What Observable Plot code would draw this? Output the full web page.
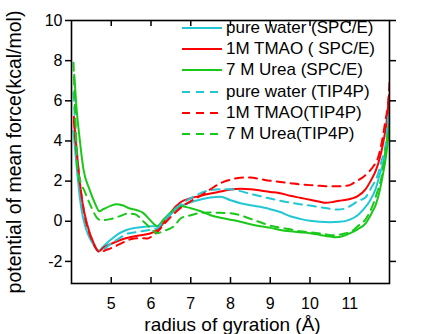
<!DOCTYPE html>
<html>
<head>
<meta charset="utf-8">
<script src="https://cdn.jsdelivr.net/npm/d3@7"></script>
<script src="https://cdn.jsdelivr.net/npm/@observablehq/plot@0.6"></script>
<style>
  html, body { margin: 0; padding: 0; background: #fff; }
  #wrap { position: relative; width: 429px; height: 334px; font-family: "Liberation Sans", Arial, sans-serif; color: #000; }
  #legend { position: absolute; left: 182px; top: 17.5px; }
  .row { display: flex; align-items: center; height: 21.2px; font-size: 17px; white-space: nowrap; }
  .row svg { display: block; margin-right: 4px; }
</style>
</head>
<body>
<div id="wrap"><div id="legend"></div></div>
<script>
// ---- data ----
const xTicks = [5, 6, 7, 8, 9, 10, 11];
const yTicks = [-2, 0, 2, 4, 6, 8, 10];
const yTickLabels = ["-2", "0", "2", "4", "6", "8", "10"];
const xLabel = "radius of gyration (Å)";
const yLabel = "potential of mean force(kcal/mol)";

const seriesNames = ["pure water (SPC/E)", "1M TMAO ( SPC/E)", "7 M Urea (SPC/E)",
                     "pure water (TIP4P)", "1M TMAO(TIP4P)", "7 M Urea(TIP4P)"];
const seriesColors = ["#22c7d4", "#ff0000", "#19c819", "#22c7d4", "#ff0000", "#19c819"];
const seriesDashed = [false, false, false, true, true, true];

const pureWaterSPCE = [[4.05,4.5],[4.15,2.3],[4.25,0.6],[4.35,-0.28],[4.45,-0.8],[4.55,-1.15],[4.68,-1.48],[4.8,-1.25],[5.0,-0.9],[5.2,-0.6],[5.4,-0.42],[5.6,-0.33],[5.8,-0.28],[6.0,-0.25],[6.15,-0.25],[6.3,0.0],[6.5,0.35],[6.75,0.75],[7.0,0.95],[7.25,1.08],[7.5,1.18],[7.75,1.22],[8.0,1.05],[8.25,0.9],[8.5,0.8],[8.75,0.72],[9.0,0.6],[9.25,0.46],[9.5,0.25],[9.75,0.12],[10.0,0.02],[10.25,-0.03],[10.5,-0.05],[10.75,-0.03],[11.0,0.08],[11.2,0.3],[11.35,0.6],[11.5,1.0],[11.65,1.6],[11.75,2.3],[11.85,3.0],[11.93,3.9],[11.99,5.4]];
const tmaoSPCE = [[4.06,5.2],[4.18,2.5],[4.27,1.0],[4.4,-0.2],[4.56,-1.1],[4.68,-1.5],[4.8,-1.32],[5.0,-1.12],[5.3,-0.88],[5.5,-0.78],[5.75,-0.7],[6.05,-0.55],[6.2,-0.35],[6.35,0.0],[6.5,0.45],[6.75,0.96],[7.0,1.15],[7.25,1.27],[7.5,1.38],[7.75,1.48],[8.0,1.58],[8.25,1.62],[8.5,1.6],[8.75,1.53],[9.0,1.46],[9.25,1.4],[9.5,1.27],[9.75,1.17],[10.0,1.07],[10.25,0.97],[10.4,0.92],[10.6,0.97],[10.8,1.04],[11.05,1.13],[11.2,1.25],[11.4,1.6],[11.55,2.1],[11.65,2.5],[11.75,3.1],[11.85,4.0],[11.93,5.0],[11.99,6.3]];
const ureaSPCE = [[4.07,7.3],[4.12,5.8],[4.2,4.2],[4.3,2.6],[4.45,1.6],[4.6,0.85],[4.7,0.5],[4.8,0.6],[5.0,0.78],[5.12,0.85],[5.28,0.8],[5.45,0.65],[5.65,0.55],[5.8,0.42],[5.95,0.12],[6.08,-0.15],[6.17,-0.25],[6.3,0.05],[6.5,0.45],[6.75,0.75],[7.0,0.65],[7.25,0.5],[7.5,0.3],[7.75,0.18],[8.0,0.08],[8.25,-0.02],[8.5,-0.15],[8.75,-0.25],[9.0,-0.33],[9.25,-0.43],[9.5,-0.5],[9.75,-0.55],[10.0,-0.6],[10.25,-0.68],[10.5,-0.76],[10.65,-0.8],[10.85,-0.72],[11.0,-0.6],[11.2,-0.4],[11.4,-0.1],[11.55,0.4],[11.65,0.8],[11.75,1.5],[11.85,2.5],[11.93,3.5],[11.99,4.8]];
const pureWaterTIP4P = [[4.05,6.4],[4.12,4.0],[4.2,2.0],[4.3,0.6],[4.4,-0.3],[4.5,-0.9],[4.6,-1.3],[4.7,-1.48],[4.8,-1.4],[5.0,-1.1],[5.2,-0.85],[5.4,-0.62],[5.6,-0.55],[5.8,-0.48],[6.0,-0.42],[6.15,-0.35],[6.3,-0.05],[6.5,0.4],[6.75,0.85],[7.0,1.15],[7.25,1.4],[7.5,1.55],[7.75,1.6],[8.0,1.6],[8.25,1.5],[8.5,1.36],[8.75,1.25],[9.0,1.13],[9.25,1.02],[9.5,0.93],[9.75,0.85],[10.0,0.78],[10.25,0.7],[10.5,0.62],[10.7,0.58],[10.9,0.65],[11.05,0.8],[11.2,1.0],[11.4,1.2],[11.55,1.7],[11.7,2.3],[11.8,3.0],[11.9,3.8],[11.98,5.5]];
const tmaoTIP4P = [[4.06,5.0],[4.15,3.0],[4.25,1.3],[4.35,0.1],[4.45,-0.6],[4.55,-1.1],[4.65,-1.45],[4.72,-1.55],[4.85,-1.45],[5.07,-1.28],[5.3,-1.05],[5.57,-0.86],[5.75,-0.84],[5.91,-0.86],[6.05,-0.7],[6.16,-0.53],[6.35,-0.1],[6.58,0.38],[6.8,0.75],[7.0,1.0],[7.26,1.29],[7.5,1.6],[7.75,1.9],[8.0,2.07],[8.25,2.17],[8.5,2.18],[8.75,2.1],[9.0,2.02],[9.25,1.96],[9.5,1.9],[9.75,1.84],[10.0,1.8],[10.25,1.77],[10.5,1.74],[10.75,1.74],[11.0,1.8],[11.15,1.98],[11.3,2.15],[11.45,2.4],[11.6,2.75],[11.7,3.1],[11.8,3.87],[11.9,5.05],[11.97,6.0],[12.0,6.9]];
const ureaTIP4P = [[4.05,7.9],[4.1,5.0],[4.15,2.6],[4.35,1.4],[4.5,0.7],[4.65,0.15],[4.75,0.05],[5.0,0.12],[5.25,0.28],[5.4,0.38],[5.6,0.35],[5.8,0.0],[6.0,-0.35],[6.15,-0.6],[6.3,-0.5],[6.6,-0.2],[6.75,0.15],[7.0,0.3],[7.25,0.42],[7.5,0.44],[7.75,0.42],[8.0,0.4],[8.25,0.3],[8.5,0.12],[8.75,-0.05],[9.0,-0.22],[9.25,-0.32],[9.5,-0.4],[9.75,-0.5],[10.0,-0.55],[10.3,-0.62],[10.6,-0.7],[10.85,-0.62],[11.05,-0.5],[11.2,-0.25],[11.4,0.1],[11.6,0.9],[11.7,1.5],[11.8,2.2],[11.9,3.5],[11.98,4.7]];

const seriesData = [pureWaterSPCE, tmaoSPCE, ureaSPCE, pureWaterTIP4P, tmaoTIP4P, ureaTIP4P];

// ---- layout ----
const W = 429, H = 334;
const mL = 71, mR = 40, mT = 20, mB = 51;
const innerH = H - mT - mB;
const font = "Liberation Sans, Arial, sans-serif";
const dash = "8,6";

const lineMarks = seriesData.map((d, i) => Plot.line(d, {
  x: p => p[0], y: p => p[1],
  stroke: seriesColors[i], strokeWidth: 2,
  strokeDasharray: seriesDashed[i] ? dash : null,
  curve: "monotone-x", clip: true
}));

const chart = Plot.plot({
  width: W, height: H,
  marginLeft: mL, marginRight: mR, marginTop: mT, marginBottom: mB,
  style: { fontFamily: font, fontSize: "16px", color: "#000", background: "#fff", overflow: "visible" },
  x: { domain: [4, 12] },
  y: { domain: [-3.1, 10] },
  marks: [
    ...lineMarks,
    Plot.frame({ stroke: "#000", strokeWidth: 1.6 }),
    Plot.axisY(yTicks, { anchor: "left", tickSize: 6, tickPadding: 3, strokeWidth: 1.5,
      tickFormat: (d) => yTickLabels[yTicks.indexOf(d)], fontSize: 16, label: null }),
    Plot.axisY(yTicks, { anchor: "right", tickSize: 6, strokeWidth: 1.5, tickFormat: () => "", label: null }),
    Plot.axisX(xTicks, { anchor: "bottom", tickSize: 0, tickPadding: 14, fontSize: 16, label: null, tickFormat: d => String(d) }),
    Plot.tickX(xTicks, { x: d => d, insetTop: innerH - 6, stroke: "#000", strokeWidth: 1.5 }),
    Plot.tickX(xTicks, { x: d => d, insetBottom: innerH - 6, stroke: "#000", strokeWidth: 1.5 }),
    Plot.text([xLabel], { text: d => d, frameAnchor: "bottom", dy: 41, dx: 2, textAnchor: "middle", lineAnchor: "middle", fontSize: 19, fill: "#000" }),
    Plot.text([yLabel], { text: d => d, frameAnchor: "left", dx: -57, rotate: -90, textAnchor: "middle", lineAnchor: "middle", fontSize: 19.5, fill: "#000" })
  ]
});

const wrap = document.getElementById("wrap");
wrap.insertBefore(chart, wrap.firstChild);

const legend = document.getElementById("legend");
seriesNames.forEach((name, i) => {
  const row = document.createElement("div");
  row.className = "row";
  const ns = "http://www.w3.org/2000/svg";
  const s = document.createElementNS(ns, "svg");
  s.setAttribute("width", "40"); s.setAttribute("height", "6");
  const l = document.createElementNS(ns, "line");
  l.setAttribute("x1", "0"); l.setAttribute("x2", "40");
  l.setAttribute("y1", "3"); l.setAttribute("y2", "3");
  l.setAttribute("stroke", seriesColors[i]); l.setAttribute("stroke-width", "2");
  if (seriesDashed[i]) l.setAttribute("stroke-dasharray", dash);
  s.appendChild(l);
  row.appendChild(s);
  const t = document.createElement("span");
  t.textContent = name;
  row.appendChild(t);
  legend.appendChild(row);
});
</script>
</body>
</html>
